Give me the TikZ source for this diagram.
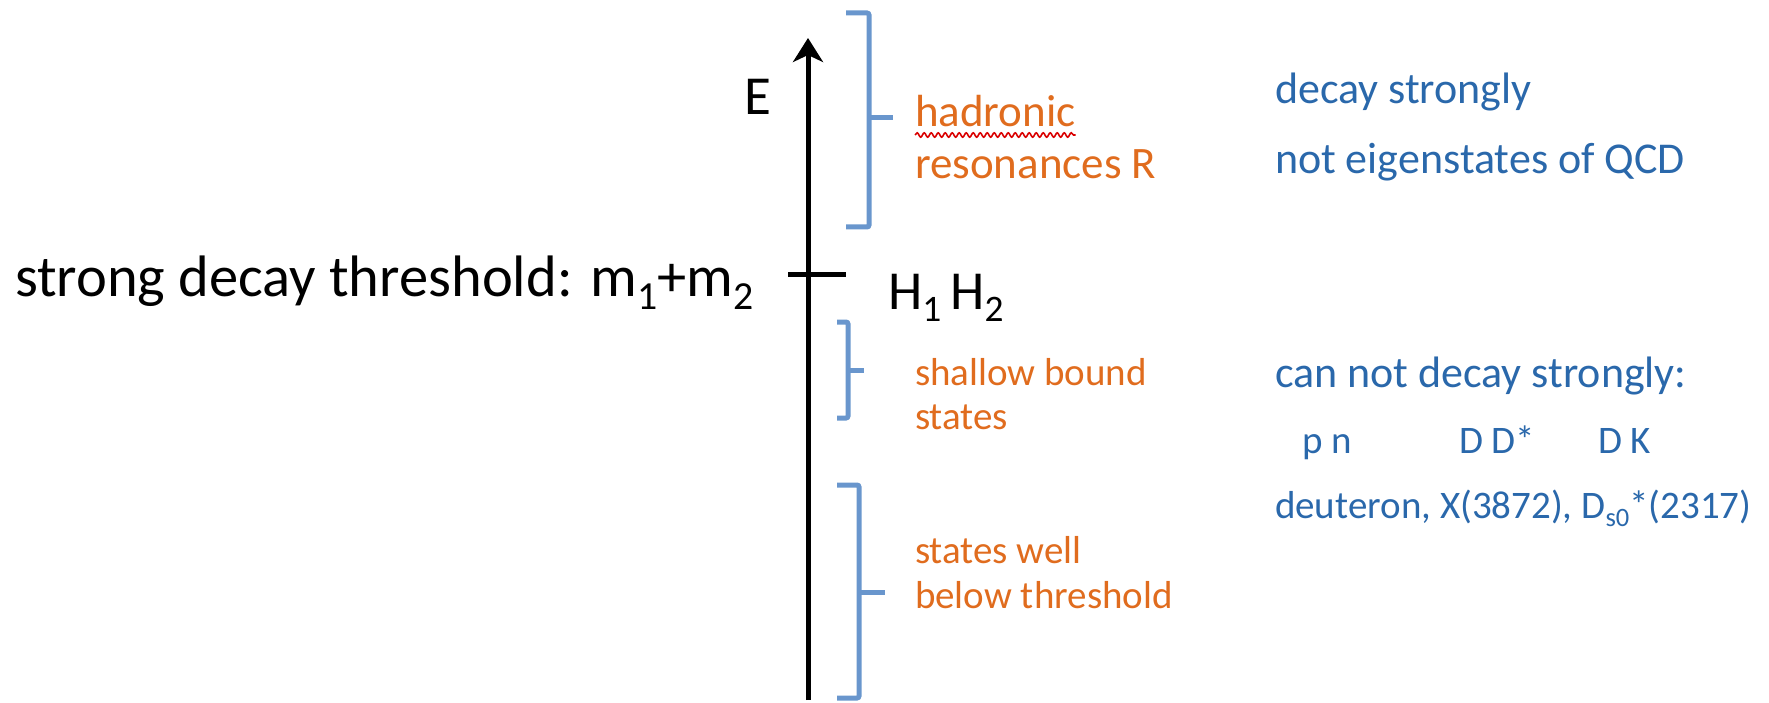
\documentclass[tikz,border=0pt]{standalone}
\usepackage{fontspec}
\usepackage{graphicx}
\setmainfont{Carlito}
\usetikzlibrary{arrows.meta,decorations.pathmorphing}
\definecolor{bluetext}{RGB}{42,104,171}
\definecolor{orangetext}{RGB}{224,108,30}
\definecolor{bracketblue}{RGB}{105,150,205}
\newcommand{\sbx}[1]{\raisebox{-0.22em}{\scalebox{0.68}{#1}}}
\newcommand{\fsz}[1]{\fontsize{#1}{#1}\selectfont}
\begin{document}
\begin{tikzpicture}[x=1pt,y=-1pt,
  txt/.style={anchor=base west,inner sep=0pt,outer sep=0pt},
  blk/.style={txt,text=black,font=\fsz{58.5}},
  lbl/.style={txt,text=black,font=\fsz{55}},
  orbig/.style={txt,text=orangetext,font=\fsz{45}},
  orsmall/.style={txt,text=orangetext,font=\fsz{39}},
  blbig/.style={txt,text=bluetext,font=\fsz{44}},
  blsmall/.style={txt,text=bluetext,font=\fsz{39}},
  bracket/.style={draw=bracketblue,line width=5pt,rounded corners=2pt},
  axis/.style={draw=black,line width=5pt,-{Stealth[length=24pt,width=30pt,inset=7pt]}},
  tick/.style={draw=black,line width=5pt},
  squiggle/.style={draw=red!85!black,line width=1.6pt,decorate,decoration={snake,amplitude=2.2pt,segment length=7pt}}]
\useasboundingbox (0,0) rectangle (1769,703);
% axis
\coordinate (axb) at (808,700);
\coordinate (axt) at (808,38);
\draw[axis] (axb) -- (axt);
\coordinate (tl) at (788,275);
\coordinate (tr) at (846,275);
\draw[tick] (tl) -- (tr);
% brackets
\draw[bracket] (846,13) -- (869,13) -- (869,227) -- (846,227);
\draw[bracket] (869,118) -- (893,118);
\draw[bracket] (837,322) -- (848,322) -- (848,418) -- (837,418);
\draw[bracket] (848,370) -- (864,370);
\draw[bracket] (837,485) -- (859,485) -- (859,698) -- (837,698);
\draw[bracket] (859,592) -- (885,592);
% labels
\node[lbl] (E) at (744,115) {E};
\node[blk] (thr) at (15,297) {strong decay threshold: m\sbx{1}+m\sbx{2}};
\node[lbl] (H) at (888,309) {H\sbx{1}\,H\sbx{2}};
\node[orbig] (had) at (915,127) {hadronic};
\node[orbig] (res) at (915,179) {resonances R};
\draw[squiggle] ([yshift=-8pt]had.base west) -- ([yshift=-8pt]had.base east);
\node[orsmall] (sh1) at (915,385) {shallow bound};
\node[orsmall] (sh2) at (915,429) {states};
\node[orsmall] (wb1) at (915,563) {states well};
\node[orsmall] (wb2) at (915,608) {below threshold};
\node[blbig] (ds) at (1275,104) {decay strongly};
\node[blbig] (ne) at (1275,174) {not eigenstates of QCD};
\node[blbig] (cn) at (1275,387) {can not decay strongly:};
\node[blsmall] (pn) at (1302,453) {p n};
\node[blsmall] (dd) at (1459,453) {D D*};
\node[blsmall] (dk) at (1598,453) {D K};
\node[blsmall] (deu) at (1275,518) {deuteron, X(3872), D\sbx{s0}*(2317)};
\end{tikzpicture}
\end{document}
